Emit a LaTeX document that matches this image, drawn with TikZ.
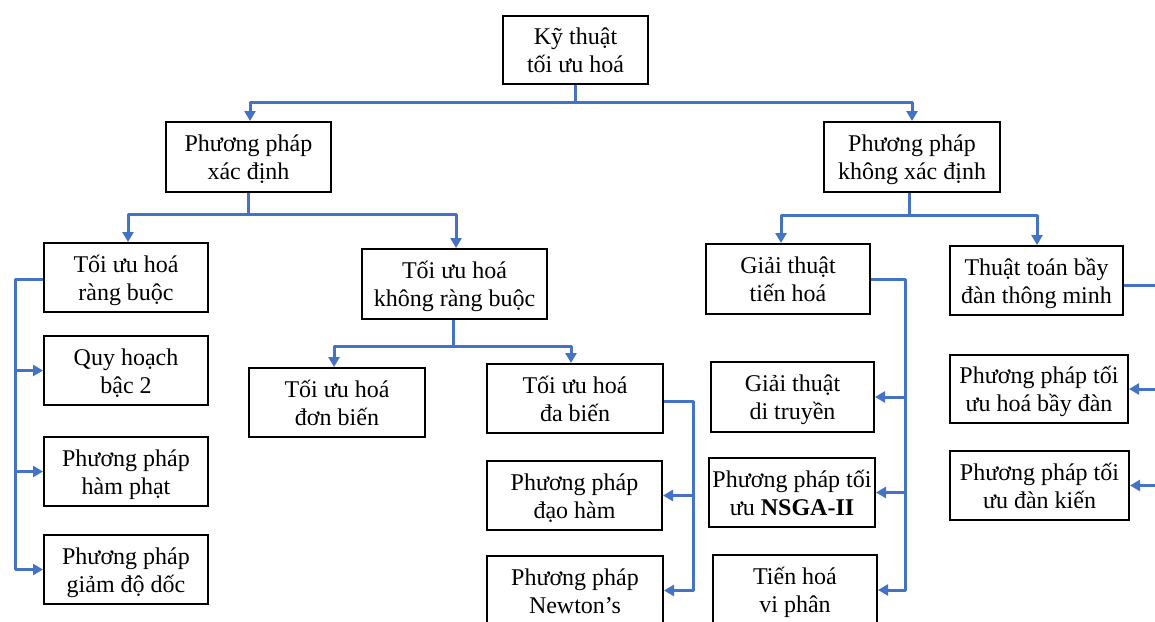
\documentclass[tikz,border=0pt]{standalone}
\usepackage{fontspec}
\setmainfont{Liberation Serif}
\usetikzlibrary{arrows.meta}
\definecolor{linkblue}{HTML}{4472C4}

% box given by its left, top, right and bottom edges (in px-like pt, y downwards);
% the two text lines sit slightly below the geometric centre
\newcommand\ptbox[6]{%
  \node[box, minimum width={(#4)-(#2)}, minimum height={(#5)-(#3)}]
    (#1) at ({((#2)+(#4))/2},{((#3)+(#5))/2})
    {\raisebox{-3pt}[\height][\depth]{\begin{tabular}{@{}c@{}}#6\end{tabular}}};}

\begin{document}
\begin{tikzpicture}[x=1pt, y=-1pt,
  box/.style={draw=black, line width=2pt, fill=white, align=center,
    inner sep=0pt, text=black, font=\fontsize{24}{28}\selectfont},
  link/.style={draw=linkblue, line width=3pt, line join=round},
  arr/.style={link, -{Triangle[length=10pt,width=11pt]}},
]
\useasboundingbox (0,0) rectangle (1155,621);
\fill[white] (0,0) rectangle (1155,621);
\clip (0,0) rectangle (1155,621);

% nodes
\ptbox{root}{503}{16}{648}{84}{Kỹ thuật\\tối ưu hoá}
\ptbox{ppxd}{166}{122}{331}{192}{Phương pháp\\xác định}
\ptbox{ppkxd}{824}{122}{1000}{192}{Phương pháp\\không xác định}

\ptbox{tuhrb}{44}{243}{208}{312}{Tối ưu hoá\\ràng buộc}
\ptbox{qh}{44}{336}{208}{405}{Quy hoạch\\bậc 2}
\ptbox{hp}{44}{437}{208}{506}{Phương pháp\\hàm phạt}
\ptbox{gdd}{44}{535}{208}{604}{Phương pháp\\giảm độ dốc}

\ptbox{tuhkrb}{362}{249}{547}{319}{Tối ưu hoá\\không ràng buộc}
\ptbox{db}{249}{368}{425}{437}{Tối ưu hoá\\đơn biến}
\ptbox{dab}{487}{364}{663}{433}{Tối ưu hoá\\đa biến}
\ptbox{dh}{487}{461}{662}{530}{Phương pháp\\đạo hàm}
\ptbox{nt}{487}{556}{663}{625}{Phương pháp\\Newton’s}

\ptbox{gtth}{706}{244}{870}{314}{Giải thuật\\tiến hoá}
\ptbox{gtdt}{711}{362}{874}{432}{Giải thuật\\di truyền}
\ptbox{nsga}{709}{458}{875}{527}{Phương pháp tối\\ưu \textbf{NSGA-II}}
\ptbox{thvp}{713}{555}{877}{625}{Tiến hoá\\vi phân}

\ptbox{ttbd}{950}{246}{1123}{315}{Thuật toán bầy\\đàn thông minh}
\ptbox{pso}{950}{355}{1128}{423}{Phương pháp tối\\ưu hoá bầy đàn}
\ptbox{ant}{950}{451}{1129}{520}{Phương pháp tối\\ưu đàn kiến}

% top level split
\draw[link] (root.south) -- ++(0,17) coordinate (j0);
\draw[arr] (j0) -| ([xshift=1.5pt]ppxd.north);
\draw[arr] (j0) -| (ppkxd.north);

% deterministic branch
\draw[link] (ppxd.south) -- ++(0,21) coordinate (j1);
\draw[arr] (j1) -| ([xshift=2pt]tuhrb.north);
\draw[arr] (j1) -| ([xshift=1.5pt]tuhkrb.north);

% non-deterministic branch
\draw[link] ([xshift=-3pt]ppkxd.south) -- ++(0,22) coordinate (j2);
\draw[arr] (j2) -| ([xshift=-7pt]gtth.north);
\draw[arr] (j2) -| ([xshift=0.5pt]ttbd.north);

% unconstrained split
\draw[link] ([xshift=-1.5pt]tuhkrb.south) -- ++(0,26) coordinate (j3);
\draw[arr] (j3) -| ([xshift=-3pt]db.north);
\draw[arr] (j3) -| ([xshift=-4pt]dab.north);

% constrained methods bus
\coordinate (lb) at (15,0);
\draw[arr] ([yshift=-2pt]tuhrb.west) -| (lb |- gdd.west) -- (gdd.west);
\draw[arr] (lb |- qh.west) -- (qh.west);
\draw[arr] (lb |- hp.west) -- (hp.west);

% multivariable methods bus
\coordinate (mb) at (693,0);
\draw[arr] ([yshift=-2.5pt]dab.east) -| (mb |- nt.east) -- (nt.east);
\draw[arr] (mb |- dh.east) -- (dh.east);

% evolutionary methods bus
\coordinate (gb) at (905,0);
\draw[arr] (gtth.east) -| (gb |- thvp.east) -- (thvp.east);
\draw[arr] (gb |- gtdt.east) -- (gtdt.east);
\draw[arr] (gb |- nsga.east) -- (nsga.east);

% swarm methods bus (runs past the right edge)
\coordinate (rb) at (1170,0);
\draw[link] ([yshift=-5pt]ttbd.east) -| (rb |- ant.east);
\draw[arr] (rb |- pso.east) -- (pso.east);
\draw[arr] (rb |- ant.east) -- (ant.east);
\end{tikzpicture}
\end{document}
